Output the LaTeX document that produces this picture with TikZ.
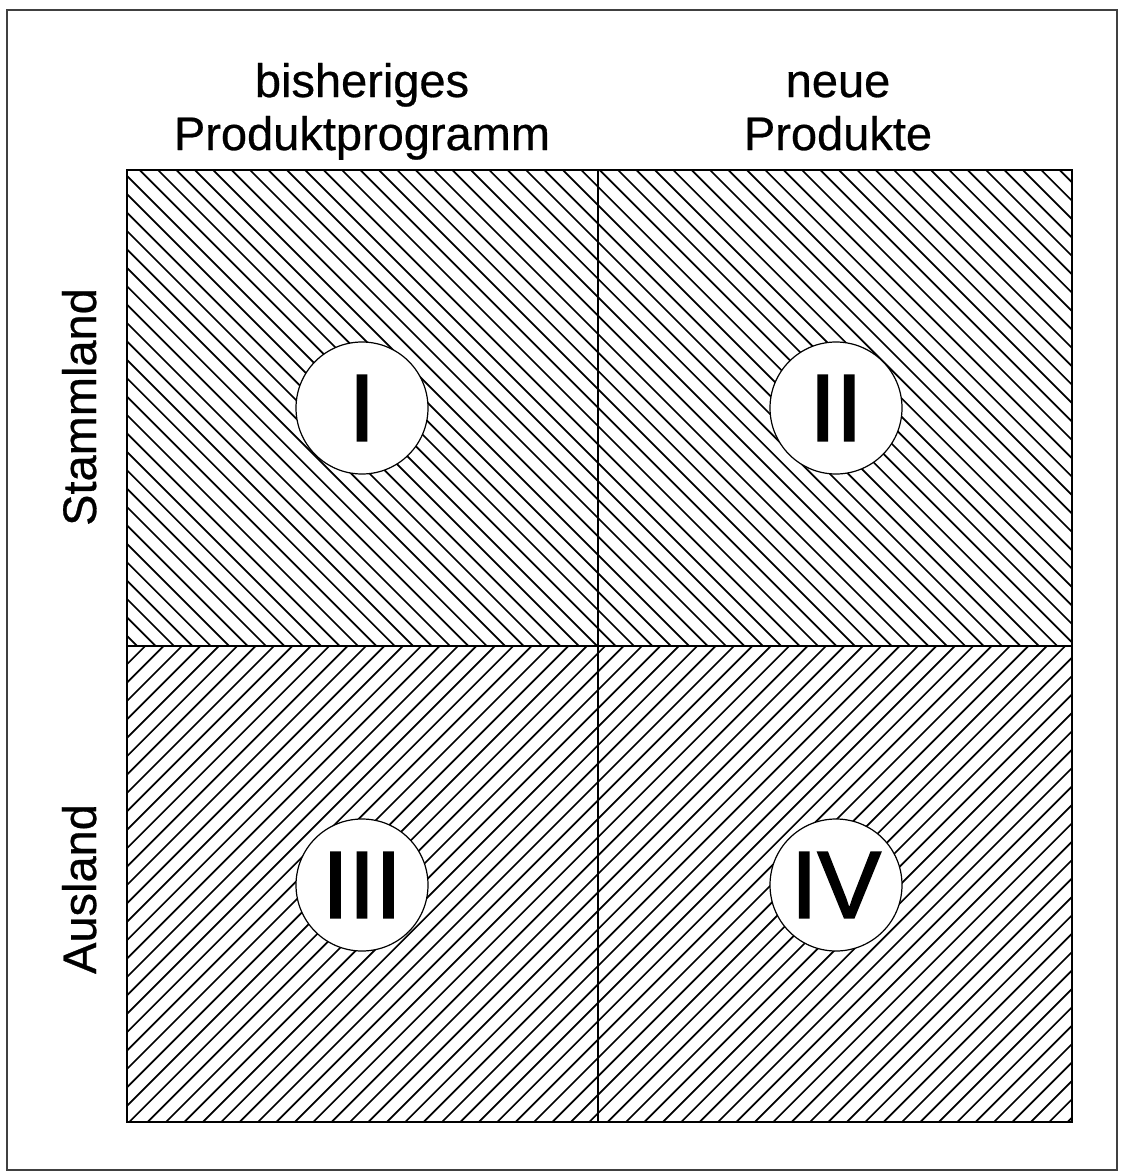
\documentclass[tikz,border=0pt]{standalone}
\usepackage{fontspec}
\setmainfont{Liberation Sans}
\newfontfamily\numfont[FakeBold=2]{Liberation Sans}
\newfontfamily\headfont[FakeBold=0.6]{Liberation Sans}
\begin{document}
\begin{tikzpicture}[x=1pt,y=-1pt,
  head/.style={font=\headfont\fontsize{47}{53}\selectfont, inner sep=0pt, anchor=base},
  numcirc/.style={circle, draw, line width=1.2pt, fill=white, minimum size=132pt, inner sep=0pt, font=\numfont\fontsize{95}{95}\selectfont},
  hatch/.style={line width=1.7pt},
  gridline/.style={line width=2.4pt}
]
\useasboundingbox (0,0) rectangle (1123,1175);
\draw[line width=1.4pt, black!75] (7,10) rectangle (1117,1170);
% hatching top half
\begin{scope}
\clip (127,170) rectangle (1072,646);
\foreach \i in {0,...,140} { \draw[hatch] (\i*18.4-1300,0) -- ++(1400,1400); }
\end{scope}
% hatching bottom half
\begin{scope}
\clip (127,646) rectangle (1072,1122);
\foreach \i in {0,...,140} { \draw[hatch] (\i*18.4,0) -- ++(-1400,1400); }
\end{scope}
% grid
\coordinate (tl) at (127,170);
\coordinate (br) at (1072,1122);
\coordinate (tm) at (598,170);
\coordinate (bm) at (598,1122);
\coordinate (lm) at (127,646);
\coordinate (rm) at (1072,646);
\draw[gridline] (tl) rectangle (br);
\draw[gridline] (tm) -- (bm);
\draw[gridline] (lm) -- (rm);
% circles
\node[numcirc] (c1) at (362,408) {I};
\node[numcirc] (c2) at (836,408) {II};
\node[numcirc] (c3) at (362,885) {III};
\node[numcirc] (c4) at (836,885) {IV};
% headings
\node[head] (h1a) at (362,97) {bisheriges};
\node[head] (h1b) at (362,150) {Produktprogramm};
\node[head] (h2a) at (838,97) {neue};
\node[head] (h2b) at (838,150) {Produkte};
\node[head, rotate=90] (r1) at (96,407) {Stammland};
\node[head, rotate=90] (r2) at (96,889) {Ausland};
\end{tikzpicture}
\end{document}
